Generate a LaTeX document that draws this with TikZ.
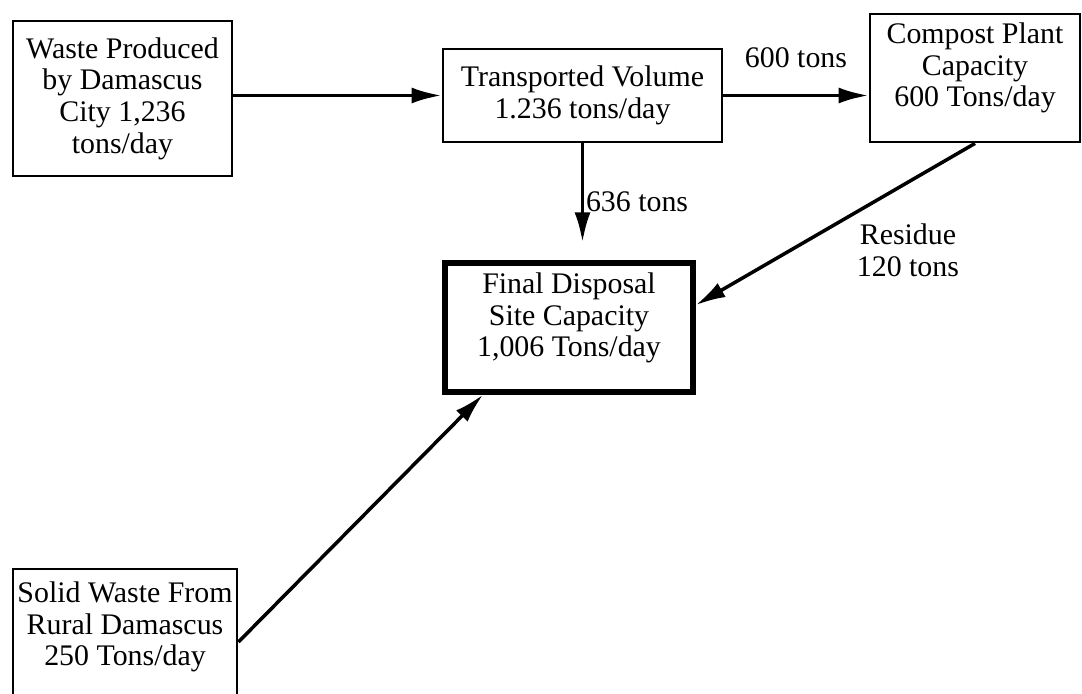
\documentclass[tikz,border=0pt]{standalone}
\usepackage{fontspec}
\setmainfont{Liberation Serif}
\usetikzlibrary{arrows.meta}

\begin{document}
\begin{tikzpicture}
            \tikzset{box/.style={draw, line width=1.6pt, align=center, inner xsep=1pt, font=\fontsize{17}{18}\selectfont},
                     flow/.style={-{Latex[length=6mm, width=3.2mm]}, line width=2pt},
                     lbl/.style={font=\fontsize{17}{18}\selectfont, align=center}}

            \useasboundingbox (0,0) rectangle (21.64,13.88);

            \node[box, minimum width=4.38cm, minimum height=3.1cm] (waste) at (2.45,11.91) {Waste Produced\\by Damascus\\City 1,236\\tons/day};
            \node[box, minimum width=5.58cm, minimum height=1.86cm] (transported) at (11.65,11.97) {Transported Volume\\1.236 tons/day};
            \node[box, minimum width=4.2cm, minimum height=2.56cm, text depth=0.53cm] (compost) at (19.5,12.32) {Compost Plant\\Capacity\\600 Tons/day};

            \node[box, line width=3pt, minimum width=4.96cm, minimum height=2.58cm, text depth=0.5cm] (final) at (11.38,7.33) {Final Disposal\\Site Capacity\\1,006 Tons/day};

            \node[box, minimum width=4.48cm, minimum height=2.92cm, text depth=0.73cm] (rural) at (2.5,1.04) {Solid Waste From\\Rural Damascus\\250 Tons/day};

            \draw[flow] (waste.east |- transported.west) -- (transported.west);
            \draw[flow] (transported.east) -- node[lbl, midway, above=0.4cm] {600 tons} (transported.east -| compost.west);
            \draw[flow, shorten >=0.36cm] (transported.south) -- node[lbl, midway, right, inner sep=1pt] {636 tons} (transported.south |- final.north);
            \draw[flow] (compost.south) -- node[lbl, pos=0.45, below right] {Residue\\120 tons} (final.10);
            \draw[flow] (rural.east) -- (final.218);
        \end{tikzpicture}
\end{document}
